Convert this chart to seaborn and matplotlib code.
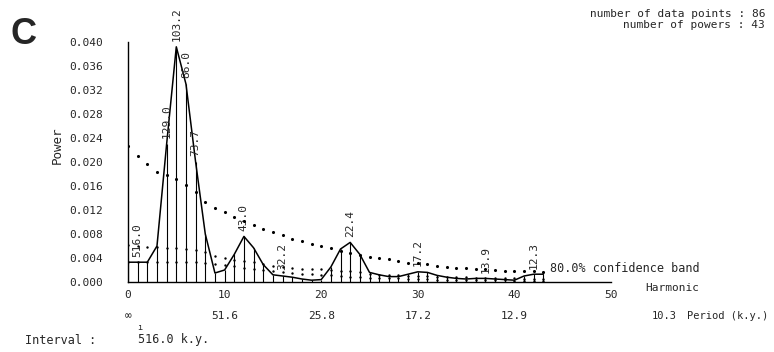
import numpy as np
import pandas as pd
import matplotlib
matplotlib.use("Agg")
import matplotlib.pyplot as plt
import matplotlib.transforms as mtransforms
import seaborn as sns

# ---- data ----
harmonics = list(range(0, 44))
power = [0.0033, 0.0033, 0.0033, 0.0060, 0.0230, 0.0392, 0.0330, 0.0200, 0.0080, 0.0015,
         0.0020, 0.0046, 0.0076, 0.0057, 0.0029, 0.0012, 0.0010, 0.0008, 0.0005, 0.0003,
         0.0004, 0.0025, 0.0055, 0.0066, 0.0046, 0.0016, 0.0012, 0.0009, 0.0009, 0.0013,
         0.0017, 0.0016, 0.0011, 0.0008, 0.0006, 0.0005, 0.0006, 0.0006, 0.0005, 0.0004,
         0.0003, 0.0010, 0.0013, 0.0013]
band_upper = [0.0226, 0.0210, 0.0197, 0.0184, 0.0178, 0.0172, 0.0162, 0.0150, 0.0133, 0.0124,
              0.0116, 0.0109, 0.0102, 0.0095, 0.0088, 0.0083, 0.0078, 0.0072, 0.0068, 0.0064,
              0.0060, 0.0056, 0.0052, 0.0048, 0.0045, 0.0042, 0.0040, 0.0038, 0.0035, 0.0032,
              0.0031, 0.0030, 0.0027, 0.0025, 0.0024, 0.0023, 0.0022, 0.0021, 0.0020, 0.0019,
              0.0018, 0.0018, 0.0018, 0.0017]
band_mid = [0.0061, 0.0060, 0.0059, 0.0058, 0.0057, 0.0056, 0.0055, 0.0053, 0.0050, 0.0043,
            0.0040, 0.0037, 0.0035, 0.0033, 0.0030, 0.0027, 0.0025, 0.0023, 0.0022, 0.0022,
            0.0022, 0.0020, 0.0019, 0.0018, 0.0016, 0.0014, 0.0012, 0.0011, 0.0011, 0.0010,
            0.0010, 0.0010, 0.0009, 0.0009, 0.0008, 0.0008, 0.0007, 0.0007, 0.0006, 0.0006,
            0.0006, 0.0005, 0.0005, 0.0005]
band_low = [0.0034, 0.0034, 0.0033, 0.0033, 0.0033, 0.0033, 0.0033, 0.0033, 0.0032, 0.0030,
            0.0028, 0.0026, 0.0024, 0.0022, 0.0020, 0.0018, 0.0016, 0.0015, 0.0014, 0.0013,
            0.0012, 0.0011, 0.0010, 0.0009, 0.0008, 0.0007, 0.0007, 0.0006, 0.0006, 0.0005,
            0.0005, 0.0005, 0.0004, 0.0004, 0.0004, 0.0003, 0.0003, 0.0003, 0.0003, 0.0003,
            0.0002, 0.0002, 0.0002, 0.0002]
peak_harmonics = [1, 4, 5, 6, 7, 12, 16, 23, 30, 37, 42]
peak_labels = ["516.0", "129.0", "103.2", "86.0", "73.7", "43.0", "32.2", "22.4", "17.2", "13.9", "12.3"]
x_ticks = [0, 10, 20, 30, 40, 50]
period_ticks = [0, 10, 20, 30, 40]
period_labels = ["\u221e", "51.6", "25.8", "17.2", "12.9"]
y_ticks = [0.000, 0.004, 0.008, 0.012, 0.016, 0.020, 0.024, 0.028, 0.032, 0.036, 0.040]

df = pd.DataFrame({"harmonic": harmonics, "power": power,
                   "upper": band_upper, "mid": band_mid, "low": band_low})

sns.set_style("white")
MONO = ["DejaVu Sans Mono", "DejaVu Sans"]
plt.rcParams["font.family"] = MONO

W, H = 774, 352
fig = plt.figure(figsize=(W / 100, H / 100), dpi=100)
ax = fig.add_axes([128 / W, (H - 282) / H, 483 / W, 240 / H])

# vertical lines from the baseline to each power
ax.vlines(df["harmonic"], 0, df["power"], color="black", lw=0.8)
sns.lineplot(data=df, x="harmonic", y="power", ax=ax, color="black", lw=1.1)
sns.scatterplot(data=df, x="harmonic", y="upper", ax=ax, color="black", s=5,
                linewidth=0, zorder=5)
sns.scatterplot(data=df, x="harmonic", y="mid", ax=ax, color="black", s=3,
                linewidth=0, zorder=5)
sns.scatterplot(data=df, x="harmonic", y="low", ax=ax, color="black", s=3,
                linewidth=0, zorder=5)

for h, lab in zip(peak_harmonics, peak_labels):
    ax.annotate(lab, (h, power[h]), xytext=(0, 4), textcoords="offset points",
                rotation=90, ha="center", va="bottom", fontsize=8, annotation_clip=False)

ax.set_xlim(0, 50)
ax.set_ylim(0, 0.040)
ax.set_xticks(x_ticks)
ax.set_xticklabels([str(t) for t in x_ticks], fontsize=8)
ax.set_yticks(y_ticks)
ax.set_yticklabels([f"{v:.3f}" for v in y_ticks], fontsize=8)
ax.tick_params(axis="y", direction="in", length=4, width=0.8, pad=18)
ax.tick_params(axis="x", direction="inout", length=6, width=0.8, pad=3)
ax.set_xlabel("")
ax.set_ylabel("")
for s in ["top", "right"]:
    ax.spines[s].set_visible(False)
for s in ["left", "bottom"]:
    ax.spines[s].set_linewidth(1.0)
    ax.spines[s].set_color("black")

# period row
trans = mtransforms.blended_transform_factory(ax.transData, fig.transFigure)
for p, lab in zip(period_ticks, period_labels):
    ax.text(p, 1 - 316 / H, lab, transform=trans, ha="center", va="center", fontsize=8)

def ftext(x, y, s, **kw):
    fig.text(x / W, 1 - y / H, s, **kw)

ftext(652, 316, "10.3", ha="left", va="center", fontsize=7.5)
ftext(768, 316, "Period (k.y.)", ha="right", va="center", fontsize=7.5)
ftext(645, 288, "Harmonic", ha="left", va="center", fontsize=8)
ftext(550, 268, "80.0% confidence band", ha="left", va="center", fontsize=8.5)
ftext(765, 14, "number of data points : 86", ha="right", va="center", fontsize=8)
ftext(765, 25, "number of powers : 43", ha="right", va="center", fontsize=8)
ftext(25, 340, "Interval :", ha="left", va="center", fontsize=8.5)
ftext(138, 340, "516.0 k.y.", ha="left", va="center", fontsize=8.5)
ftext(140, 328, "\u0131", ha="center", va="center", fontsize=6)
ftext(57, 145, "Power", ha="center", va="center", rotation=90, fontsize=9)
ftext(23, 34, "C", ha="center", va="center", fontsize=26, fontweight="bold",
      family=["Liberation Sans", "DejaVu Sans"])

fig.savefig("out.png", dpi=100, facecolor="white")
